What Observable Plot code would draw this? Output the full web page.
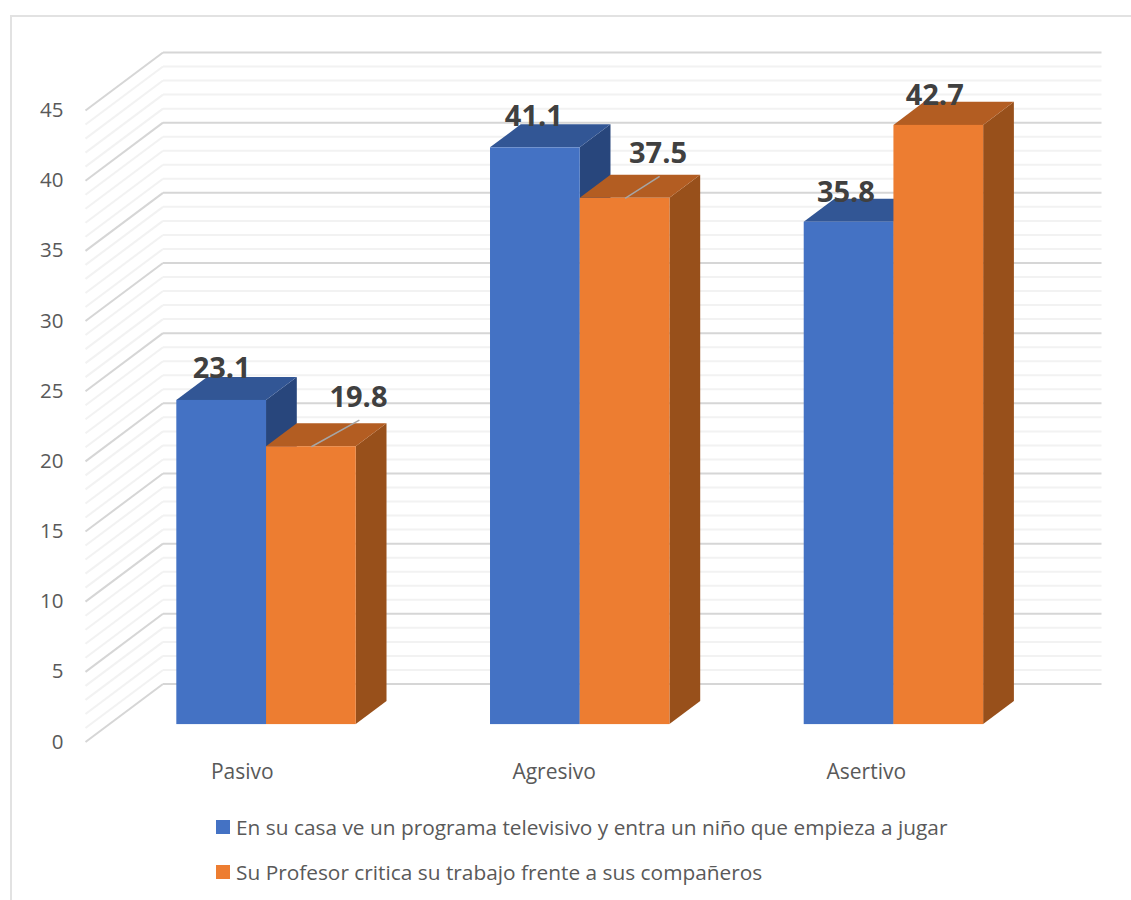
<!DOCTYPE html>
<html><head><meta charset="utf-8">
<script src="https://cdn.jsdelivr.net/npm/d3@7"></script>
<script src="https://cdn.jsdelivr.net/npm/@observablehq/plot@0.6"></script>
<style>
html,body{margin:0;padding:0;background:#fff}
#frame{position:relative;width:1131px;height:900px;overflow:hidden;background:#fff}
#border{position:absolute;left:10px;top:15px;width:1121px;height:885px;border-left:2px solid #e2e2e2;border-top:2px solid #e2e2e2;box-sizing:border-box}
#chart{position:absolute;left:0;top:0}
#legend{position:absolute;left:216px;top:805px;font:20.85px "Open Sans",sans-serif;color:#595959}
.row{display:flex;align-items:center;height:44.7px;white-space:nowrap}
.sw{width:14px;height:14px;margin-right:6px;flex:none}
</style></head><body>
<div id="frame"><div id="border"></div><div id="chart"></div><div id="legend"></div></div>
<script>
// Data
const categories = ["Pasivo", "Agresivo", "Asertivo"];
const seriesNames = ["En su casa ve un programa televisivo y entra un niño que empieza a jugar", "Su Profesor critica su trabajo frente a sus compañeros"];
const casa = [23.1, 41.1, 35.8];
const profesor = [19.8, 37.5, 42.7];
const yTicks = [0, 5, 10, 15, 20, 25, 30, 35, 40, 45];
const yMinor = d3.range(0, 46);

// Style
const palette = [
  {front: "#4472C4", top: "#325695", side: "#28467C"},
  {front: "#ED7D31", top: "#B35D22", side: "#98501B"}
];
const valueFormat = d3.format(".1f");

// 3D layout, in scale units: x in categories, y in values, z from front wall (0) to back wall (1)
const xMax = 3.2388, yMax = 49.135, depthX = 0.247, depthY = 4.135;
const barW = 0.286, zFront = 0.30, zBack = 0.697, barShift = 0.503;
const categoryTicks = [0.5, 1.494, 2.489];
const X = (x, z) => x + z * depthX;
const Y = (v, z) => v + z * depthY;

// Label offsets from the front-top centre of each bar, in scale units
const labelOffset = [
  [[0, 2.25], [-0.005, 2.2], [-0.01, 2.1]],
  [[0.15, 3.5], [0.105, 3.15], [-0.013, 2.15]]
];
const leaderEnd = [[0.153, 1.9], [0.11, 1.57]];

const bars = [casa, profesor].flatMap((vals, s) => vals.map((v, c) => {
  const cx = c + barShift;
  const x0 = s === 0 ? cx - barW : cx, x1 = x0 + barW;
  return {s, c, v, x0, x1, mid: (x0 + x1) / 2};
}));

const areaOpts = fill => ({x1: "x1", y1: "y1", x2: "x2", y2: "y2", fill, curve: "linear"});
const barMarks = bars.flatMap(b => {
  const topFace = [
    {x1: X(b.x0, zFront), y1: Y(b.v, zFront), x2: X(b.x1, zFront), y2: Y(b.v, zFront)},
    {x1: X(b.x0, zBack), y1: Y(b.v, zBack), x2: X(b.x1, zBack), y2: Y(b.v, zBack)}
  ];
  const sideFace = [
    {x1: X(b.x1, zFront), y1: Y(0, zFront), x2: X(b.x1, zFront), y2: Y(b.v, zFront)},
    {x1: X(b.x1, zBack), y1: Y(0, zBack), x2: X(b.x1, zBack), y2: Y(b.v, zBack)}
  ];
  return [
    Plot.area(sideFace, areaOpts(palette[b.s].side)),
    Plot.area(topFace, areaOpts(palette[b.s].top)),
    Plot.rect([b], {
      x1: d => X(d.x0, zFront), x2: d => X(d.x1, zFront),
      y1: d => Y(0, zFront), y2: d => Y(d.v, zFront),
      fill: palette[b.s].front
    })
  ];
});

const gridMinor = yMinor.filter(v => v % 5 !== 0);
const gridLines = (vals, stroke) => [
  Plot.link(vals, {x1: 0, y1: d => Y(d, 0), x2: X(0, 1), y2: d => Y(d, 1), stroke, strokeWidth: 2}),
  Plot.link(vals, {x1: X(0, 1), y1: d => Y(d, 1), x2: xMax, y2: d => Y(d, 1), stroke, strokeWidth: 2})
];

const labelled = bars.map(b => {
  const [dx, dy] = labelOffset[b.s][b.c];
  return {...b, lx: X(b.mid, zFront) + dx, ly: Y(b.v, zFront) + dy};
});
const leaders = bars.filter(b => b.s === 1 && b.c < 2).map(b => {
  const [dx, dy] = leaderEnd[b.c];
  return {x1: X(b.mid, zFront), y1: Y(b.v, zFront), x2: X(b.mid, zFront) + dx, y2: Y(b.v, zFront) + dy};
});

const plot = Plot.plot({
  width: 1131, height: 790,
  marginLeft: 85, marginRight: 30, marginTop: 52, marginBottom: 48.5,
  style: {background: "transparent", fontFamily: "'Open Sans',sans-serif"},
  x: {domain: [0, xMax]},
  y: {domain: [0, yMax]},
  marks: [
    ...gridLines(gridMinor, "#F2F2F2"),
    ...gridLines(yTicks, "#D6D6D6"),
    ...barMarks,
    Plot.link(leaders, {x1: "x1", y1: "y1", x2: "x2", y2: "y2", stroke: "#A6A6A6", strokeWidth: 1.5}),
    Plot.text(labelled, {x: "lx", y: "ly", text: d => valueFormat(d.v), fontSize: 29, fontWeight: 700, fill: "#404040"}),
    Plot.axisY({ticks: yTicks, tickSize: 0, tickPadding: 22, label: null, fontSize: 20.5, color: "#595959"}),
    Plot.axisX({ticks: categoryTicks, tickFormat: d => categories[categoryTicks.indexOf(d)], tickSize: 0, tickPadding: 22, label: null, fontSize: 21, color: "#595959"})
  ]
});
document.getElementById("chart").append(plot);

const legend = d3.select("#legend");
seriesNames.forEach((name, i) => {
  const row = legend.append("div").attr("class", "row");
  row.append("span").attr("class", "sw").style("background", palette[i].front);
  row.append("span").text(name);
});
</script></body></html>
